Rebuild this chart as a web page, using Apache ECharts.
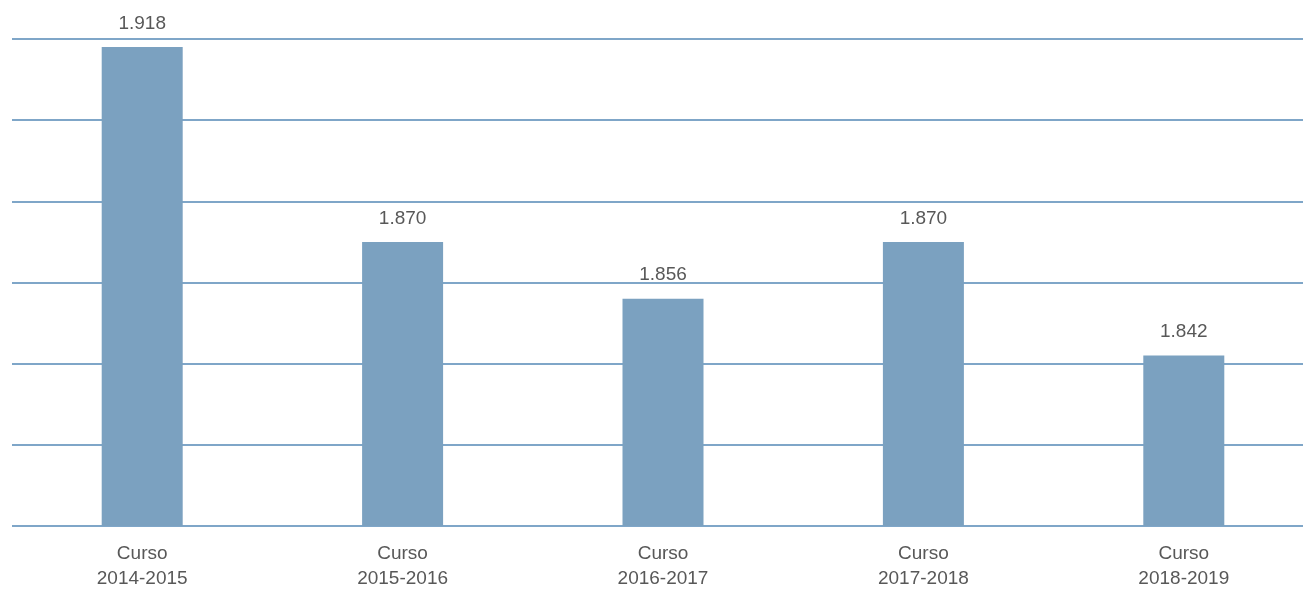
<!DOCTYPE html>
<html>
<head>
<meta charset="utf-8">
<script src="https://cdn.jsdelivr.net/npm/echarts@6/dist/echarts.min.js"></script>
<style>
html, body { margin: 0; padding: 0; background: #fff; }
#main { width: 1303px; height: 589px; }
</style>
</head>
<body>
<div id="main"></div>
<script>
var categories = ['Curso\n2014-2015', 'Curso\n2015-2016', 'Curso\n2016-2017', 'Curso\n2017-2018', 'Curso\n2018-2019'];
var values = [1918, 1870, 1856, 1870, 1842];

var myChart = echarts.init(document.getElementById('main'));
var font = '"Liberation Sans", Arial, sans-serif';
var option = {
    animation: false,
    grid: {
        left: 12,
        width: 1302,
        top: 39,
        bottom: 63,
        outerBoundsMode: 'none'
    },
    xAxis: {
        type: 'category',
        data: categories,
        axisLine: { show: false },
        axisTick: { show: false },
        axisLabel: {
            color: '#585858',
            fontSize: 19,
            fontFamily: font,
            lineHeight: 25,
            margin: 15
        }
    },
    yAxis: {
        type: 'value',
        min: 1800,
        max: 1920,
        interval: 20,
        axisLabel: { show: false },
        axisLine: { show: false },
        axisTick: { show: false },
        splitLine: {
            lineStyle: { color: '#7fa6c8', width: 2 }
        }
    },
    series: [
        {
            type: 'bar',
            data: values,
            barWidth: 81,
            itemStyle: { color: '#7ba1c0' },
            label: {
                show: true,
                position: 'top',
                distance: 14,
                color: '#585858',
                fontSize: 19,
                fontFamily: font,
                formatter: function (p) {
                    var s = String(p.value);
                    return s.slice(0, 1) + '.' + s.slice(1);
                }
            }
        }
    ]
};
myChart.setOption(option);
</script>
</body>
</html>
